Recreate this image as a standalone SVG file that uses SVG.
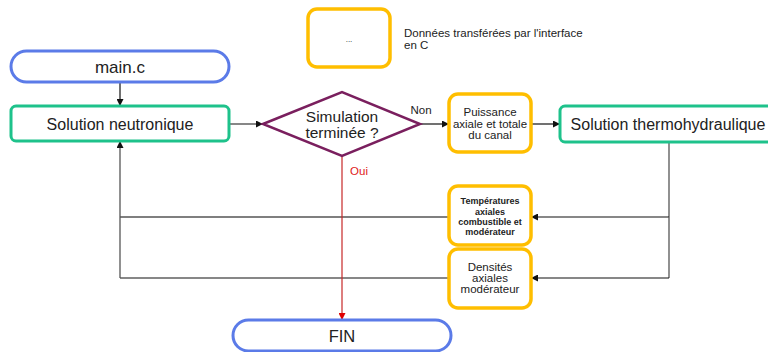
<svg xmlns="http://www.w3.org/2000/svg" width="768" height="352" viewBox="0 0 768 352">
  <defs>
    <style>
      text { font-family: "Liberation Sans", Arial, sans-serif; fill: #222; text-anchor: middle; }
      .term { fill: #fff; stroke: #5B7BE8; stroke-width: 3; }
      .proc { fill: #fff; stroke: #1EC28B; stroke-width: 3; }
      .data { fill: #fff; stroke: #FFBE00; stroke-width: 3.5; }
      .dec { fill: #fff; stroke: #7A1F5E; stroke-width: 2.5; }
      .link { fill: none; stroke: #111; stroke-width: 1.2; }
      .back { fill: none; stroke: #555; stroke-width: 1.3; }
      .yes { fill: none; stroke: #C62828; stroke-width: 1.2; }
    </style>
    <marker id="arr" viewBox="0 0 10 10" refX="10" refY="5" markerWidth="7" markerHeight="7" markerUnits="userSpaceOnUse" orient="auto">
      <path d="M0,0 L10,5 L0,10 z" fill="#111"/>
    </marker>
    <marker id="arrRed" viewBox="0 0 10 10" refX="10" refY="5" markerWidth="7" markerHeight="7" markerUnits="userSpaceOnUse" orient="auto">
      <path d="M0,0 L10,5 L0,10 z" fill="#E00000"/>
    </marker>
  </defs>
  <rect width="768" height="352" fill="#fff"/>

  <!-- legend -->
  <g id="legend">
    <rect class="data" x="308" y="9" width="82" height="58" rx="9"/>
    <text x="349" y="42" font-size="8" fill="#555">...</text>
    <text x="404" y="37" font-size="11.5" style="text-anchor:start">Données transférées par l'interface</text>
    <text x="404" y="49" font-size="11.5" style="text-anchor:start">en C</text>
  </g>

  <!-- connectors -->
  <g id="connectors">
    <path class="link" d="M120,82 V106" marker-end="url(#arr)"/>
    <path class="link" d="M229,124 H263" marker-end="url(#arr)"/>
    <path class="link" d="M420,124 H449" marker-end="url(#arr)"/>
    <path class="link" d="M532,124 H560" marker-end="url(#arr)"/>
    <path class="back" d="M669,142 V217"/>
    <path class="link" d="M669,217 H531" marker-end="url(#arr)"/>
    <path class="back" d="M669,217 V278"/>
    <path class="link" d="M669,278 H531" marker-end="url(#arr)"/>
    <path class="back" d="M449,217 H120"/>
    <path class="link" d="M449,278 H120"/>
    <path class="back" d="M120,278 V141" marker-end="url(#arr)"/>
    <path class="yes" d="M342,156 V320" marker-end="url(#arrRed)"/>
    <text x="421" y="114" font-size="11.5">Non</text>
    <text x="359" y="175" font-size="11.5" style="fill:#E02020">Oui</text>
  </g>

  <g id="main">
    <rect class="term" x="11" y="51" width="218" height="31" rx="15.5"/>
    <text x="120" y="73" font-size="17">main.c</text>
  </g>

  <g id="neutronique">
    <rect class="proc" x="11" y="106" width="218" height="35" rx="5"/>
    <text x="120" y="129.5" font-size="16">Solution neutronique</text>
  </g>

  <g id="test">
    <polygon class="dec" points="263,124 342,92 420,124 342,156"/>
    <text x="342" y="122" font-size="15.5">Simulation</text>
    <text x="342" y="138" font-size="15.5">terminée ?</text>
  </g>

  <g id="puissance">
    <rect class="data" x="449" y="94" width="82" height="58" rx="9"/>
    <text x="490" y="116" font-size="11.5">Puissance</text>
    <text x="490" y="128" font-size="11.5">axiale et totale</text>
    <text x="490" y="139" font-size="11.5">du canal</text>
  </g>

  <g id="thermo">
    <rect class="proc" x="560" y="106" width="216" height="36" rx="5"/>
    <text x="668" y="130" font-size="16">Solution thermohydraulique</text>
  </g>

  <g id="temperatures">
    <rect class="data" x="449" y="186" width="82" height="59" rx="9"/>
    <text x="490" y="204" font-size="9" font-weight="bold">Températures</text>
    <text x="490" y="215" font-size="9" font-weight="bold">axiales</text>
    <text x="490" y="225" font-size="9" font-weight="bold">combustible et</text>
    <text x="490" y="235" font-size="9" font-weight="bold">modérateur</text>
  </g>

  <g id="densites">
    <rect class="data" x="449" y="249" width="82" height="59" rx="9"/>
    <text x="490" y="271" font-size="11.5">Densités</text>
    <text x="490" y="282" font-size="11.5">axiales</text>
    <text x="490" y="293" font-size="11.5">modérateur</text>
  </g>

  <g id="fin">
    <rect class="term" x="233" y="320" width="218" height="31" rx="15.5"/>
    <text x="342" y="342" font-size="16.5">FIN</text>
  </g>
</svg>
